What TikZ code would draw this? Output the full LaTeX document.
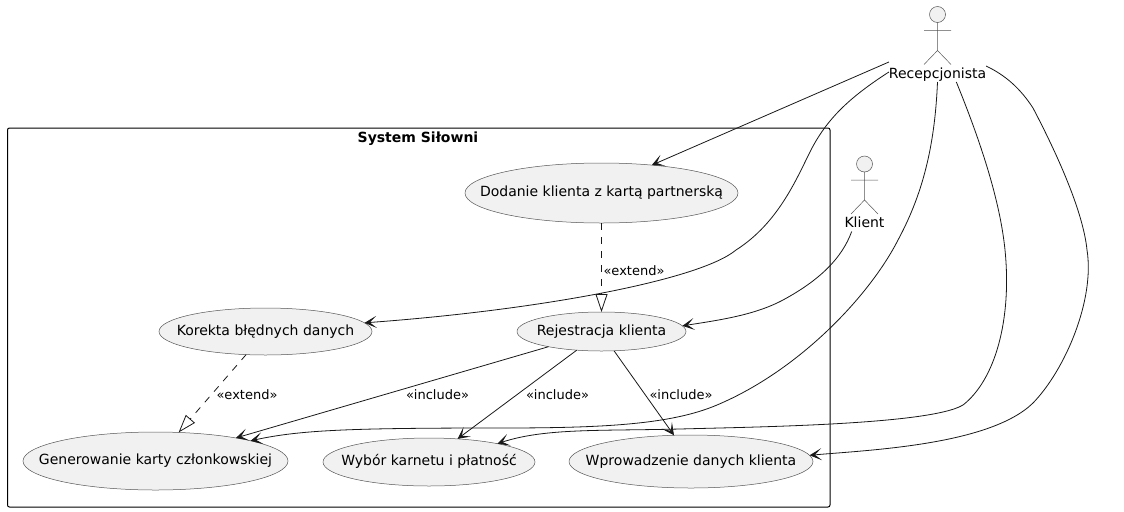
\documentclass[tikz,border=0pt]{standalone}
\usepackage{fontspec}
\setmainfont{DejaVu Sans}
\usetikzlibrary{shapes.geometric,arrows.meta}
\definecolor{ucfill}{HTML}{F1F1F1}
\definecolor{ucline}{HTML}{181818}
\definecolor{thinline}{HTML}{555555}
\tikzset{
 uc/.style={ellipse,draw=thinline,fill=ucfill,line width=0.375pt,inner sep=0pt,outer sep=0pt,text height=8pt,text depth=2.5pt,font=\fontsize{10.5pt}{12pt}\selectfont,text=black},
 lbl/.style={font=\fontsize{9.75pt}{12pt}\selectfont,text=black,inner sep=0pt},
 actorname/.style={font=\fontsize{10.5pt}{12pt}\selectfont,text=black,inner sep=0pt,outer sep=0pt,minimum height=15pt,text height=10pt,text depth=1pt},
 actorline/.style={draw=thinline,line width=0.375pt},
 actorhead/.style={circle,draw=thinline,fill=ucfill,line width=0.375pt,minimum size=12pt,inner sep=0pt,outer sep=0pt},
 conn/.style={draw=ucline,line width=0.6pt,-{Stealth[length=9pt,width=9pt,inset=5pt]}},
 ext/.style={draw=ucline,line width=0.6pt,dash pattern=on 5.25pt off 5.25pt,-{Triangle[open,length=13.5pt,width=9pt,fill=white]}}
}
\begin{document}
\begin{tikzpicture}[x=0.75pt,y=-0.75pt]
\useasboundingbox (0,0) rectangle (1124,511);
\draw[black,line width=0.75pt,rounded corners=1.5pt] (7.5,128) rectangle (830,507);
\node[font=\bfseries\fontsize{10.5pt}{12pt}\selectfont,inner sep=0pt] (sys) at (418,138.5) {System Siłowni};
\node[uc,minimum width=204.75pt,minimum height=45pt] (dod) at (601.5,193) {\makebox[0pt]{Dodanie klienta z kartą partnerską}};
\node[uc,minimum width=126.75pt,minimum height=29.25pt] (rej) at (601.5,331.5) {\makebox[0pt]{Rejestracja klienta}};
\node[uc,minimum width=159.75pt,minimum height=35.25pt] (kor) at (265.5,331.5) {\makebox[0pt]{Korekta błędnych danych}};
\node[uc,minimum width=198.75pt,minimum height=43.5pt] (gen) at (155.5,461) {\makebox[0pt]{Generowanie karty członkowskiej}};
\node[uc,text height=7pt,minimum width=159pt,minimum height=36pt] (wyb) at (429,462) {\makebox[0pt]{Wybór karnetu i płatność}};
\node[uc,minimum width=183pt,minimum height=39.75pt] (wpr) at (691,461.5) {\makebox[0pt]{Wprowadzenie danych klienta}};
% actors
\node[actorname] (rec) at (937.5,72) {Recepcjonista};
\node[actorname] (kli) at (864.5,221.5) {Klient};
\node[actorhead] (rech) at (937.5,14.5) {};
\node[actorhead] (klih) at (864.5,164) {};
\draw[actorline] (rech.south) -- ++(0,28) -- ++(-13.5,14) ++(13.5,-14) -- ++(13.5,14) (924,30.5) -- (951,30.5);
\draw[actorline] (klih.south) -- ++(0,28) -- ++(-13.5,14) ++(13.5,-14) -- ++(13.5,14) (851,180) -- (878,180);
% connectors
\draw[conn] (rec.north west) -- (dod.29);
\draw[conn] (rec.west) .. controls (850,97) and (828,118) .. (812,148) .. controls (798,175) and (780,222) .. (736,250) .. controls (700,280) and (540,310) .. (kor.5);
\draw[conn] (kli.218) .. controls (842,258) and (820,280) .. (783,300) .. controls (755,315) and (720,320) .. (rej.4.5);
\draw[conn] (rec.south) .. controls (935,140) and (925,190) .. (898,240) .. controls (870,295) and (800,370) .. (717,405) .. controls (670,425) and (600,428) .. (500,428) .. controls (350,428) and (300,430) .. (gen.12);
\draw[conn] (rec.-28) .. controls (980,140) and (1000,200) .. (1005,250) .. controls (1012,320) and (995,380) .. (963,405) .. controls (930,425) and (750,427) .. (680,429) .. controls (600,431) and (545,428) .. (wyb.15.6);
\draw[conn] (rec.7) .. controls (1005,75) and (1020,88) .. (1033,108) .. controls (1055,150) and (1083,210) .. (1087,250) .. controls (1095,300) and (1065,370) .. (1033,403) .. controls (990,445) and (870,450) .. (wpr.3);
\draw[conn] (rej.196.7) -- (gen.16.3);
\draw[conn] (rej.217) -- (wyb.39.6);
\draw[conn] (rej.-57) -- (wpr.123);
\draw[ext] (dod.south) -- (rej.north);
\draw[ext] (kor.230) -- (gen.51);
\node[lbl] (l1) at (634,271) {«extend»};
\node[lbl] (l2) at (247,395) {«extend»};
\node[lbl] (l3) at (437.5,395) {«include»};
\node[lbl] (l4) at (557.5,395) {«include»};
\node[lbl] (l5) at (681,395) {«include»};
\end{tikzpicture}
\end{document}
